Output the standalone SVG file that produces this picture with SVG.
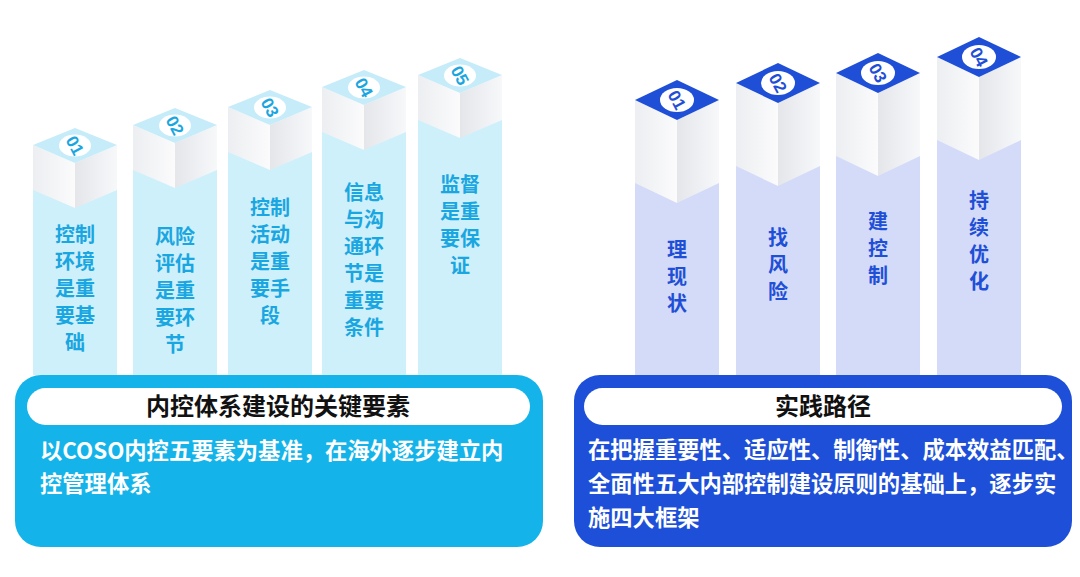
<svg xmlns="http://www.w3.org/2000/svg" width="1080" height="577" viewBox="0 0 1080 577">
<defs>
<linearGradient id="lf" x1="0" y1="0" x2="1" y2="0"><stop offset="0" stop-color="#eceef1"/><stop offset="1" stop-color="#fbfbfc"/></linearGradient>
<linearGradient id="rf" x1="0" y1="0" x2="1" y2="0"><stop offset="0" stop-color="#e4e6ea"/><stop offset="1" stop-color="#f7f8fa"/></linearGradient>
<style>
.lc{fill:#cdf0fb}.ld{fill:#c6ecfa}.rc{fill:#d3dbf9}.rd{fill:#1f4fd6}
.lt{font-family:"Noto Sans CJK SC",sans-serif;font-weight:700;font-size:20px;fill:#1aa6e0;text-anchor:middle}
.rt{font-family:"Noto Sans CJK SC",sans-serif;font-weight:700;font-size:20px;fill:#1f4fd6;text-anchor:middle}
.num{font-family:"Liberation Sans",sans-serif;font-weight:700;font-size:17px;text-anchor:middle}
.ttl{font-family:"Noto Sans CJK SC",sans-serif;font-weight:700;font-size:24px;fill:#111;text-anchor:middle}
.bd{font-family:"Noto Sans CJK SC",sans-serif;font-weight:700;font-size:22.3px;fill:#fff}
</style>
<g id="lcube"><path d="M0,17 L42,35 L42,80 L0,62Z" fill="url(#lf)"/><path d="M42,35 L84,17 L84,62 L42,80Z" fill="url(#rf)"/><path class="ld" d="M42,0 L84,17 L42,35 L0,17Z"/><ellipse cx="42" cy="17.5" rx="16" ry="11" fill="#fff"/></g>
<g id="rcube"><path d="M0,20 L42,40 L42,123 L0,103Z" fill="url(#lf)"/><path d="M42,40 L84,20 L84,103 L42,123Z" fill="url(#rf)"/><path class="rd" d="M42,0 L84,20 L42,40 L0,20Z"/><ellipse cx="42" cy="20" rx="17" ry="12" fill="#fff"/></g>
</defs>
<rect width="1080" height="577" fill="#fff"/>
<g id="l1" transform="translate(33,128)"><rect class="lc" x="0" y="62" width="84" height="185"/><use href="#lcube"/><text class="num" fill="#1aa6e0" transform="translate(42,17.5) rotate(62)" y="6">01</text></g>
<g id="l2" transform="translate(133,108)"><rect class="lc" x="0" y="62" width="84" height="205"/><use href="#lcube"/><text class="num" fill="#1aa6e0" transform="translate(42,17.5) rotate(62)" y="6">02</text></g>
<g id="l3" transform="translate(228,90)"><rect class="lc" x="0" y="62" width="84" height="223"/><use href="#lcube"/><text class="num" fill="#1aa6e0" transform="translate(42,17.5) rotate(62)" y="6">03</text></g>
<g id="l4" transform="translate(322,70)"><rect class="lc" x="0" y="62" width="84" height="243"/><use href="#lcube"/><text class="num" fill="#1aa6e0" transform="translate(42,17.5) rotate(62)" y="6">04</text></g>
<g id="l5" transform="translate(418,58)"><rect class="lc" x="0" y="62" width="84" height="255"/><use href="#lcube"/><text class="num" fill="#1aa6e0" transform="translate(42,17.5) rotate(62)" y="6">05</text></g>
<g id="ltexts">
<text class="lt"><tspan x="75" y="242">控制</tspan><tspan x="75" y="269">环境</tspan><tspan x="75" y="296">是重</tspan><tspan x="75" y="323">要基</tspan><tspan x="75" y="350">础</tspan></text>
<text class="lt"><tspan x="175" y="244">风险</tspan><tspan x="175" y="271">评估</tspan><tspan x="175" y="298">是重</tspan><tspan x="175" y="325">要环</tspan><tspan x="175" y="352">节</tspan></text>
<text class="lt"><tspan x="270" y="215">控制</tspan><tspan x="270" y="242">活动</tspan><tspan x="270" y="269">是重</tspan><tspan x="270" y="296">要手</tspan><tspan x="270" y="323">段</tspan></text>
<text class="lt"><tspan x="364" y="200">信息</tspan><tspan x="364" y="227">与沟</tspan><tspan x="364" y="254">通环</tspan><tspan x="364" y="281">节是</tspan><tspan x="364" y="308">重要</tspan><tspan x="364" y="335">条件</tspan></text>
<text class="lt"><tspan x="460" y="192">监督</tspan><tspan x="460" y="219">是重</tspan><tspan x="460" y="246">要保</tspan><tspan x="460" y="273">证</tspan></text>
</g>
<g id="r1" transform="translate(635,80)"><rect class="rc" x="0" y="103" width="84" height="192"/><use href="#rcube"/><text class="num" fill="#1f4fd6" transform="translate(42,20) rotate(62)" y="6">01</text></g>
<g id="r2" transform="translate(736,63)"><rect class="rc" x="0" y="103" width="84" height="209"/><use href="#rcube"/><text class="num" fill="#1f4fd6" transform="translate(42,20) rotate(62)" y="6">02</text></g>
<g id="r3" transform="translate(836,53)"><rect class="rc" x="0" y="103" width="84" height="219"/><use href="#rcube"/><text class="num" fill="#1f4fd6" transform="translate(42,20) rotate(62)" y="6">03</text></g>
<g id="r4" transform="translate(937,37)"><rect class="rc" x="0" y="103" width="84" height="235"/><use href="#rcube"/><text class="num" fill="#1f4fd6" transform="translate(42,20) rotate(62)" y="6">04</text></g>
<g id="rtexts">
<text class="rt"><tspan x="677" y="257">理</tspan><tspan x="677" y="284">现</tspan><tspan x="677" y="311">状</tspan></text>
<text class="rt"><tspan x="778" y="245">找</tspan><tspan x="778" y="272">风</tspan><tspan x="778" y="299">险</tspan></text>
<text class="rt"><tspan x="878" y="229">建</tspan><tspan x="878" y="256">控</tspan><tspan x="878" y="283">制</tspan></text>
<text class="rt"><tspan x="979" y="208">持</tspan><tspan x="979" y="235">续</tspan><tspan x="979" y="262">优</tspan><tspan x="979" y="289">化</tspan></text>
</g>
<g id="leftpanel">
<rect x="15" y="375" width="528" height="172" rx="26" fill="#14b4ea"/>
<rect x="27" y="388" width="503" height="37" rx="18.5" fill="#fff"/>
<text class="ttl" x="278" y="415">内控体系建设的关键要素</text>
<text class="bd"><tspan x="40" y="459">以COSO内控五要素为基准，在海外逐步建立内</tspan><tspan x="40" y="492">控管理体系</tspan></text>
</g>
<g id="rightpanel">
<rect x="574" y="375" width="498" height="172" rx="26" fill="#1e4fd8"/>
<rect x="584" y="388" width="478" height="37" rx="18.5" fill="#fff"/>
<text class="ttl" x="823" y="415">实践路径</text>
<text class="bd"><tspan x="588" y="458">在把握重要性、适应性、制衡性、成本效益匹配、</tspan><tspan x="588" y="492">全面性五大内部控制建设原则的基础上，逐步实</tspan><tspan x="588" y="526">施四大框架</tspan></text>
</g>
</svg>
